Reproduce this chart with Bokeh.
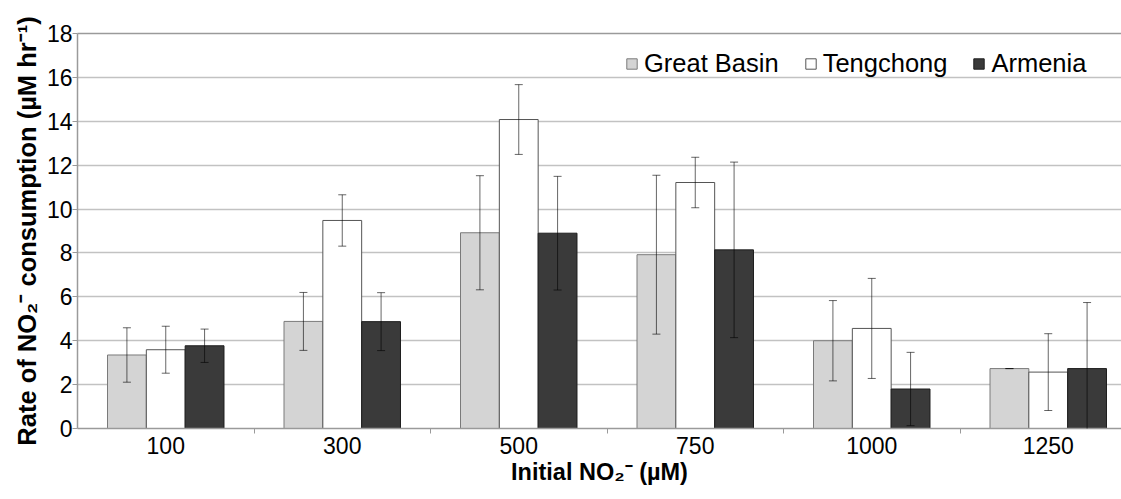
from bokeh.plotting import figure
from bokeh.models import (ColumnDataSource, Whisker, TeeHead, FixedTicker, Range1d,
                          Legend, LegendItem, LinearAxis)
from bokeh.embed import file_html
from bokeh.resources import INLINE

# ---- data ----
concs = ["100", "300", "500", "750", "1000", "1250"]
great_basin = [3.35, 4.88, 8.92, 7.92, 4.00, 2.73]
great_basin_err = [1.24, 1.32, 2.60, 3.62, 1.83, 0.0]
tengchong = [3.59, 9.48, 14.08, 11.21, 4.56, 2.57]
tengchong_err = [1.07, 1.17, 1.59, 1.15, 2.28, 1.75]
armenia = [3.77, 4.87, 8.90, 8.14, 1.80, 2.73]
armenia_err = [0.76, 1.32, 2.59, 4.00, 1.67, 3.01]
y_ticks = [0, 2, 4, 6, 8, 10, 12, 14, 16, 18]

FONT = "Liberation Sans"
n = len(concs)
centers = [i + 0.5 for i in range(n)]
W = 0.22

p = figure(width=1121, height=499, x_range=Range1d(0, 5.915), y_range=Range1d(0, 18),
           output_backend="svg", toolbar_location=None,
           min_border_left=77, min_border_right=0, min_border_top=33, min_border_bottom=71)
p.outline_line_color = None
p.background_fill_color = "white"

series = [
    ("Great Basin", great_basin, great_basin_err, -W, "#d4d4d4", "#7a7a7a"),
    ("Tengchong", tengchong, tengchong_err, 0.0, "#ffffff", "#555555"),
    ("Armenia", armenia, armenia_err, W, "#3a3a3a", "#1e1e1e"),
]

items = []
for name, vals, errs, off, fill, line in series:
    xs = [c + off for c in centers]
    src = ColumnDataSource(dict(x=xs, top=vals,
                                upper=[v + e for v, e in zip(vals, errs)],
                                lower=[v - e for v, e in zip(vals, errs)]))
    r = p.vbar(x="x", top="top", width=W, bottom=0, source=src,
               fill_color=fill, line_color=line, line_width=1)
    items.append(LegendItem(label=name, renderers=[r]))
    wh = Whisker(base="x", upper="upper", lower="lower", source=src, dimension="height",
                 line_color="black", line_alpha=0.6, line_width=1, level="annotation",
                 upper_head=TeeHead(size=8, line_color="black", line_alpha=0.6, line_width=1),
                 lower_head=TeeHead(size=8, line_color="black", line_alpha=0.6, line_width=1))
    p.add_layout(wh)

# grid
p.xgrid.grid_line_color = None
p.ygrid.grid_line_color = "#c2c2c2"
p.ygrid.grid_line_width = 1.5
p.ygrid.ticker = FixedTicker(ticks=y_ticks)

# x axis
xa = p.xaxis[0]
xa.ticker = FixedTicker(ticks=centers, minor_ticks=[1, 2, 3, 4, 5])
xa.major_label_overrides = {c: lab for c, lab in zip(centers, concs)}
xa.major_tick_line_color = None
xa.major_tick_out = 0
xa.major_tick_in = 0
xa.minor_tick_line_color = "#9a9a9a"
xa.minor_tick_out = 5
xa.minor_tick_in = 0
xa.axis_line_color = "#9a9a9a"
xa.axis_line_width = 1.5
xa.major_label_standoff = 3
xa.major_label_text_font = FONT
xa.major_label_text_font_size = "23px"
xa.major_label_text_color = "black"
xa.axis_label = "Initial NO\u2082\u207b (\u00b5M)"
xa.axis_label_text_font = FONT
xa.axis_label_text_font_size = "23.5px"
xa.axis_label_text_font_style = "bold"
xa.axis_label_text_color = "black"
xa.axis_label_standoff = 2

# y axis
ya = p.yaxis[0]
ya.ticker = FixedTicker(ticks=y_ticks)
ya.minor_tick_line_color = None
ya.major_tick_out = 5
ya.major_tick_in = 0
ya.major_tick_line_color = "#9a9a9a"
ya.axis_line_color = "#9a9a9a"
ya.axis_line_width = 1.5
ya.major_label_standoff = 0
ya.major_label_text_font = FONT
ya.major_label_text_font_size = "23px"
ya.major_label_text_color = "black"
ya.axis_label = "Rate of NO\u2082\u207b consumption (\u00b5M hr\u207b\u00b9)"
ya.axis_label_text_font = FONT
ya.axis_label_text_font_size = "25.5px"
ya.axis_label_text_font_style = "bold"
ya.axis_label_text_color = "black"
ya.axis_label_standoff = 3

# top border line of the plot area
top = LinearAxis(ticker=FixedTicker(ticks=[]), major_label_text_font_size="0px",
                 major_tick_line_color=None, minor_tick_line_color=None,
                 axis_line_color="#9a9a9a", axis_line_width=1.5)
p.add_layout(top, "above")

legend = Legend(items=items, orientation="horizontal", location=(548, 350),
                background_fill_alpha=0, border_line_color=None, padding=0, margin=0,
                spacing=25, glyph_width=13, glyph_height=13, label_standoff=6,
                label_text_font=FONT, label_text_font_size="25.5px", label_text_color="black")
p.add_layout(legend, "center")

open("out.html", "w").write(file_html(p, INLINE))
